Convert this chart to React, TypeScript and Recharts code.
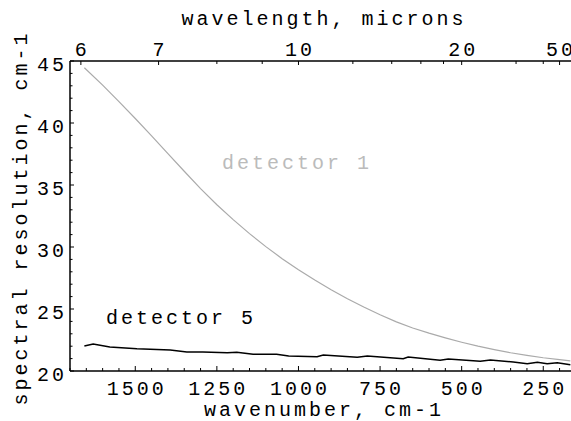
import React from "react";
import { LineChart, Line, XAxis, YAxis } from "recharts";

// detector 1 (grey curve): wavenumber, cm-1 / resolution, cm-1
const det1Wavenumber = [1656, 1600, 1550, 1500, 1450, 1400, 1350, 1300, 1250, 1200, 1150, 1100, 1050, 1000, 950, 900, 850, 800, 750, 700, 650, 600, 550, 500, 450, 400, 350, 300, 250, 200, 167];
const det1Resolution = [44.46, 43.06, 41.73, 40.36, 38.96, 37.53, 36.11, 34.71, 33.41, 32.21, 31.08, 30.03, 29.06, 28.16, 27.33, 26.55, 25.83, 25.16, 24.53, 23.96, 23.47, 23.05, 22.67, 22.32, 22.0, 21.72, 21.47, 21.26, 21.07, 20.91, 20.82];

// detector 5 (black curve, slightly noisy)
const det5Wavenumber = [1656, 1629, 1578, 1495, 1393, 1342, 1293, 1218, 1189, 1139, 1067, 1030, 943, 924, 820, 789, 679, 664, 566, 541, 443, 412, 342, 299, 268, 238, 207, 167];
const det5Resolution = [22.02, 22.18, 21.94, 21.8, 21.69, 21.53, 21.53, 21.48, 21.51, 21.35, 21.35, 21.21, 21.15, 21.29, 21.1, 21.21, 20.99, 21.13, 20.86, 20.97, 20.78, 20.89, 20.73, 20.59, 20.7, 20.59, 20.67, 20.51];

const wavenumberTicks = [1700, 1650, 1600, 1550, 1500, 1450, 1400, 1350, 1300, 1250, 1200, 1150, 1100, 1050, 1000, 950, 900, 850, 800, 750, 700, 650, 600, 550, 500, 450, 400, 350, 300, 250, 200];
const wavelengthTicks = [6, 7, 8, 9, 10, 12, 14, 16, 18, 20, 30, 40, 50];
const wavelengthLabels = [6, 7, 10, 20, 50];
const resolutionTicks = [20, 21, 22, 23, 24, 25, 26, 27, 28, 29, 30, 31, 32, 33, 34, 35, 36, 37, 38, 39, 40, 41, 42, 43, 44, 45];

const det1 = det1Wavenumber.map((w, i) => ({ w, v: det1Resolution[i] }));
const det5 = det5Wavenumber.map((w, i) => ({ w, v: det5Resolution[i] }));

const FONT = '"Liberation Mono", "Courier New", monospace';
const FS = 20;
const LS = 3;

const BottomTick = (props: any) => {
  const { x, y, payload } = props;
  const major = payload.value % 250 === 0;
  return (
    <g>
      <line x1={x} y1={y} x2={x} y2={y - (major ? 5 : 3)} stroke="#000" strokeWidth={1} />
      {major && (
        <text x={x + LS / 2} y={y + 24} textAnchor="middle" fontFamily={FONT} fontSize={FS} letterSpacing={LS} fill="#000">
          {payload.value}
        </text>
      )}
    </g>
  );
};

const TopTick = (props: any) => {
  const { x, y, payload } = props;
  const lambda = Math.round(10000 / payload.value);
  const major = wavelengthLabels.includes(lambda);
  return (
    <g>
      <line x1={x} y1={y} x2={x} y2={y + (major ? 4 : 3)} stroke="#000" strokeWidth={1} />
      {major && (
        <text x={x + LS / 2} y={y - 5} textAnchor="middle" fontFamily={FONT} fontSize={FS} letterSpacing={LS} fill="#000">
          {lambda}
        </text>
      )}
    </g>
  );
};

const LeftTick = (props: any) => {
  const { x, y, payload } = props;
  const major = payload.value % 5 === 0;
  return (
    <g>
      <line x1={x} y1={y} x2={x + (major ? 4 : 2.5)} y2={y} stroke="#000" strokeWidth={1} />
      {major && (
        <text x={x - 3} y={y + 10} textAnchor="end" fontFamily={FONT} fontSize={FS} letterSpacing={LS} fill="#000">
          {payload.value}
        </text>
      )}
    </g>
  );
};

const axisLine = { stroke: "#000", strokeWidth: 1.5 };

export default function App() {
  return (
    <div
      style={{
        position: "fixed",
        left: 0,
        top: 0,
        width: 571,
        height: 421,
        overflow: "hidden",
        background: "#fff",
      }}
    >
      <LineChart width={571} height={421} margin={{ top: 21, right: 0, bottom: 10, left: 10 }}>
        <XAxis
          xAxisId="bottom"
          type="number"
          dataKey="w"
          domain={[165, 1700]}
          allowDataOverflow
          reversed
          ticks={wavenumberTicks}
          interval={0}
          tickSize={0}
          tickMargin={0}
          tick={BottomTick}
          axisLine={axisLine}
          tickLine={false}
          height={40}
        />
        <XAxis
          xAxisId="top"
          orientation="top"
          type="number"
          dataKey="w"
          domain={[165, 1700]}
          allowDataOverflow
          reversed
          ticks={wavelengthTicks.map((l) => 10000 / l)}
          interval={0}
          tickSize={0}
          tickMargin={0}
          tick={TopTick}
          axisLine={axisLine}
          tickLine={false}
          height={40}
        />
        <YAxis
          type="number"
          domain={[20, 45]}
          allowDataOverflow
          ticks={resolutionTicks}
          interval={0}
          tickSize={0}
          tickMargin={0}
          tick={LeftTick}
          axisLine={axisLine}
          tickLine={false}
          width={60}
        />
        <Line
          xAxisId="bottom"
          data={det1}
          dataKey="v"
          type="linear"
          stroke="#aaaaaa"
          strokeWidth={1.2}
          dot={false}
          isAnimationActive={false}
        />
        <Line
          xAxisId="bottom"
          data={det5}
          dataKey="v"
          type="linear"
          stroke="#000"
          strokeWidth={1.5}
          dot={false}
          isAnimationActive={false}
        />
      </LineChart>
      <svg
        width={571}
        height={421}
        style={{ position: "absolute", left: 0, top: 0, pointerEvents: "none" }}
      >
        <g fontFamily={FONT} fontSize={FS} letterSpacing={LS}>
          <text x={324} y={25} textAnchor="middle" fill="#000">
            wavelength, microns
          </text>
          <text x={324} y={416} textAnchor="middle" fill="#000">
            wavenumber, cm-1
          </text>
          <text transform="translate(27,218) rotate(-90)" textAnchor="middle" fill="#000">
            spectral resolution, cm-1
          </text>
          <text x={222} y={169} fill="#bbbbbb">
            detector 1
          </text>
          <text x={106} y={324} fill="#000">
            detector 5
          </text>
        </g>
      </svg>
    </div>
  );
}
